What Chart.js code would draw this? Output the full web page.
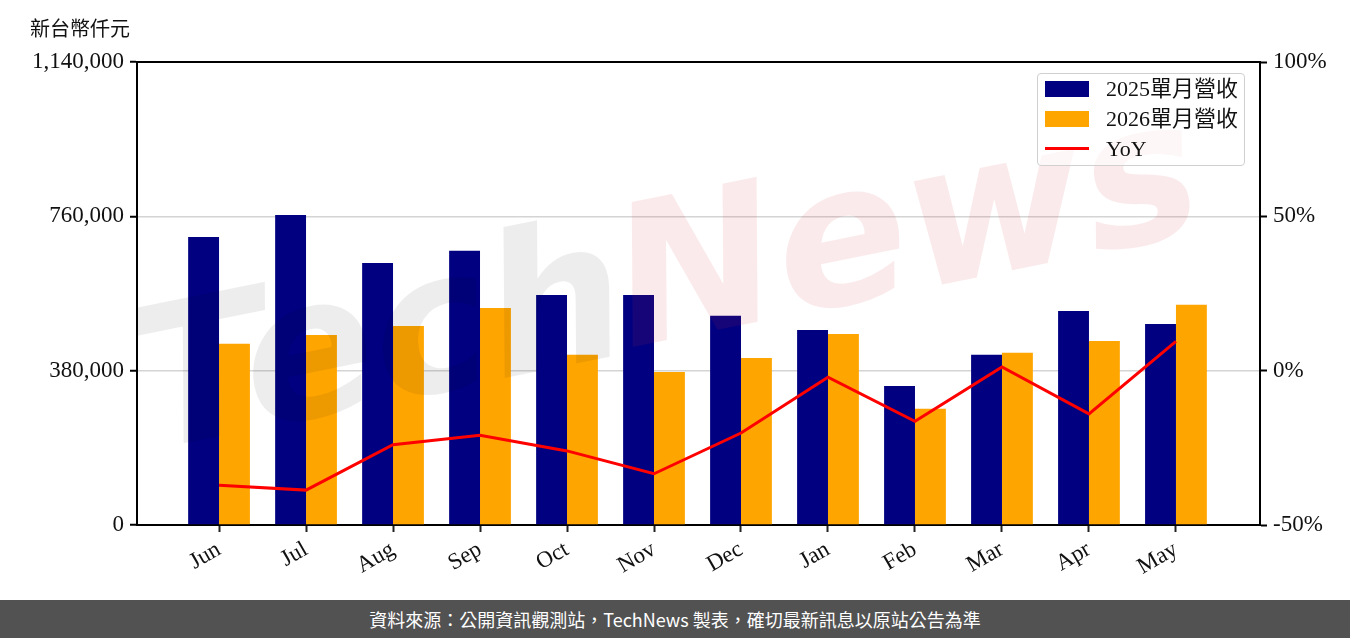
<!DOCTYPE html>
<html>
<head>
<meta charset="utf-8">
<script src="https://cdn.jsdelivr.net/npm/chart.js@4.4.1/dist/chart.umd.min.js"></script>
<style>
  body { margin: 0; width: 1350px; height: 638px; background: #fff; overflow: hidden; position: relative; }
  #wrap { position: absolute; left: 0; top: 0; width: 1350px; height: 600px; }
  #unit { position: absolute; left: 30px; top: 13px; font: 20px "Liberation Serif", "Noto Sans CJK TC", serif; color: #111; }
  #legend { position: absolute; left: 1037px; top: 73px; width: 208px; height: 93px; border: 1.5px solid #d0d0d0; border-radius: 4px; background: rgba(255,255,255,0.6); box-sizing: border-box; }
  .item { position: absolute; left: 7px; height: 30px; font: 22px "Liberation Serif", "Noto Sans CJK TC", serif; color: #111; }
  .sw { position: absolute; left: 0; }
  .lbl { position: absolute; left: 61px; top: 0; white-space: nowrap; line-height: 30px; }
  #footer { position: absolute; left: 0; top: 600px; width: 1350px; height: 38px; background: #525252; color: #fff; text-align: center; font: 18px "Noto Sans CJK TC", "Noto Sans", sans-serif; line-height: 38px; }
</style>
</head>
<body>
<div id="wrap"><canvas id="chart" width="1350" height="600"></canvas></div>
<div id="unit">新台幣仟元</div>
<div id="legend">
  <div class="item" style="top:0px"><div class="sw" style="top:7px;width:44px;height:16px;background:#000080"></div><div class="lbl">2025單月營收</div></div>
  <div class="item" style="top:30px"><div class="sw" style="top:7px;width:44px;height:16px;background:#ffa500"></div><div class="lbl">2026單月營收</div></div>
  <div class="item" style="top:60px"><div class="sw" style="top:13px;width:44px;height:3px;background:#ff0000"></div><div class="lbl">YoY</div></div>
</div>
<div id="footer">資料來源：公開資訊觀測站，TechNews 製表，確切最新訊息以原站公告為準</div>
<script>
const months = ['Jun', 'Jul', 'Aug', 'Sep', 'Oct', 'Nov', 'Dec', 'Jan', 'Feb', 'Mar', 'Apr', 'May'];
const rev2025 = [709000, 763000, 645000, 675000, 566000, 566000, 515000, 480000, 342000, 419000, 527000, 495000];
const rev2026 = [446000, 468000, 490000, 534000, 419000, 377000, 411000, 470000, 286000, 424000, 453000, 542000];
const yoy = [-37.1, -38.7, -24.0, -20.9, -26.0, -33.4, -20.2, -2.1, -16.4, 1.2, -14.0, 9.5];
const leftTicks = [0, 380000, 760000, 1140000];
const rightTicks = [-50, 0, 50, 100];

const serif = '"Liberation Serif", "Noto Sans CJK TC", serif';
const toXY = arr => arr.map((v, i) => ({ x: i, y: v }));

// faint TechNews watermark + top border of the plot box
const decor = {
  id: 'decor',
  afterDatasetsDraw(chart) {
    const ctx = chart.ctx;
    ctx.save();
    ctx.translate(150, 450);
    ctx.rotate(-0.2);
    ctx.font = 'italic bold 195px "DejaVu Sans", sans-serif';
    ctx.textBaseline = 'alphabetic';
    ctx.fillStyle = 'rgba(0,0,0,0.07)';
    ctx.fillText('Tech', 0, 0);
    const w = ctx.measureText('Tech').width;
    ctx.fillStyle = 'rgba(215,50,60,0.1)';
    ctx.fillText('News', w - 5, -5);
    ctx.restore();
  },
  afterDraw(chart) {
    const a = chart.chartArea;
    const ctx = chart.ctx;
    ctx.save();
    ctx.strokeStyle = '#000';
    ctx.lineWidth = 2;
    ctx.beginPath();
    ctx.moveTo(a.left, a.top);
    ctx.lineTo(a.right, a.top);
    ctx.stroke();
    ctx.restore();
  }
};

new Chart(document.getElementById('chart'), {
  data: {
    datasets: [
      { type: 'line', label: 'YoY', data: toXY(yoy), yAxisID: 'y1', borderColor: '#ff0000', borderWidth: 3, pointRadius: 0, tension: 0, order: 0 },
      { type: 'bar', label: '2025單月營收', data: toXY(rev2025), yAxisID: 'y', backgroundColor: '#000080', order: 1, barPercentage: 1, categoryPercentage: 0.71 },
      { type: 'bar', label: '2026單月營收', data: toXY(rev2026), yAxisID: 'y', backgroundColor: '#ffa500', order: 1, barPercentage: 1, categoryPercentage: 0.71 }
    ]
  },
  options: {
    responsive: false,
    animation: false,
    layout: { padding: { top: 62, left: 0, right: 0, bottom: 0 } },
    plugins: { legend: { display: false }, tooltip: { enabled: false } },
    scales: {
      x: {
        type: 'linear',
        offset: false,
        min: -0.943,
        max: 11.966,
        afterBuildTicks: axis => { axis.ticks = months.map((m, i) => ({ value: i })); },
        afterFit: axis => { axis.height = 75; },
        ticks: { callback: v => months[v], font: { family: serif, size: 23 }, color: '#111', minRotation: 30, maxRotation: 30, padding: 4 },
        grid: { offset: false, drawOnChartArea: false, tickLength: 7, tickColor: '#222', tickWidth: 2 },
        border: { color: '#000', width: 2 }
      },
      y: {
        position: 'left',
        min: 0,
        max: 1140000,
        afterBuildTicks: axis => { axis.ticks = leftTicks.map(v => ({ value: v })); },
        afterFit: axis => { axis.width = 137; },
        ticks: { callback: v => v.toLocaleString('en-US'), font: { family: serif, size: 23 }, color: '#111', padding: 6 },
        grid: { color: '#d4d4d4', lineWidth: 1.5, tickLength: 7, tickColor: '#000', tickWidth: 2 },
        border: { color: '#000', width: 2 }
      },
      y1: {
        position: 'right',
        min: -50,
        max: 100,
        afterBuildTicks: axis => { axis.ticks = rightTicks.map(v => ({ value: v })); },
        afterFit: axis => { axis.width = 90; },
        ticks: { callback: v => v + '%', font: { family: serif, size: 23 }, color: '#111', padding: 6 },
        grid: { drawOnChartArea: false, tickLength: 7, tickColor: '#000', tickWidth: 2 },
        border: { color: '#000', width: 2 }
      }
    }
  },
  plugins: [decor]
});
</script>
</body>
</html>
